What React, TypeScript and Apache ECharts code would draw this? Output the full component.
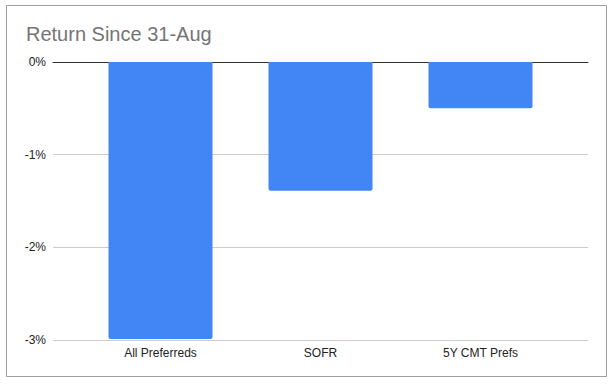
import React, { useEffect, useRef } from "react";
import * as echarts from "echarts";

const categories = ["All Preferreds", "SOFR", "5Y CMT Prefs"];
const returns = [-2.99, -1.39, -0.5];
const yTicks = [-3, -2, -1, 0];
const titleText = "Return Since 31-Aug";

export default function App() {
  const ref = useRef<HTMLDivElement>(null);
  useEffect(() => {
    if (!ref.current) return;
    const chart = echarts.init(ref.current, undefined, { renderer: "svg" });
    const yMin = yTicks[0];
    const yMax = yTicks[yTicks.length - 1];
    chart.setOption({
      animation: false,
      backgroundColor: "#ffffff",
      graphic: [
        {
          type: "rect",
          shape: { x: 6.5, y: 5.5, width: 600, height: 371 },
          style: { fill: "none", stroke: "#9e9e9e", lineWidth: 1 },
          silent: true,
        },
        {
          type: "text",
          x: 26,
          y: 34,
          style: {
            text: titleText,
            font: "20px 'Liberation Sans', Arial, sans-serif",
            fill: "#757575",
            verticalAlign: "middle",
            align: "left",
          },
        },
      ],
      grid: [
        { left: 53, right: 28, top: 62, bottom: 44 },
        { left: 80.5, right: 55.5, top: 62, bottom: 44 },
      ],
      xAxis: [
        {
          gridIndex: 0,
          type: "category",
          data: categories,
          position: "top",
          axisLine: { show: true, onZero: false, lineStyle: { color: "#333333", width: 1 } },
          axisTick: { show: false },
          axisLabel: { show: false },
          splitLine: { show: false },
        },
        {
          gridIndex: 1,
          type: "category",
          data: categories,
          position: "bottom",
          axisLine: { show: false, onZero: false },
          axisTick: { show: false },
          axisLabel: {
            show: true,
            margin: 7,
            color: "#222222",
            fontSize: 12,
            fontFamily: "'Liberation Sans', Arial, sans-serif",
          },
        },
      ],
      yAxis: [
        {
          gridIndex: 0,
          type: "value",
          min: yMin,
          max: yMax,
          interval: 1,
          axisLine: { show: false },
          axisTick: { show: false },
          axisLabel: {
            margin: 7,
            color: "#222222",
            fontSize: 12,
            fontFamily: "'Liberation Sans', Arial, sans-serif",
            formatter: (v: number) => `${v}%`,
          },
          splitLine: { show: true, lineStyle: { color: "#cccccc", width: 1 } },
        },
        {
          gridIndex: 1,
          type: "value",
          min: yMin,
          max: yMax,
          interval: 1,
          show: false,
          splitLine: { show: false },
        },
      ],
      series: [
        {
          type: "bar",
          xAxisIndex: 1,
          yAxisIndex: 1,
          data: returns,
          barWidth: 104,
          itemStyle: { color: "#4285F4", borderRadius: [0, 0, 2, 2] },
          z: 1,
        },
      ],
    });
    return () => chart.dispose();
  }, []);
  return (
    <div
      ref={ref}
      style={{ position: "fixed", left: 0, top: 0, width: 616, height: 384 }}
    />
  );
}
